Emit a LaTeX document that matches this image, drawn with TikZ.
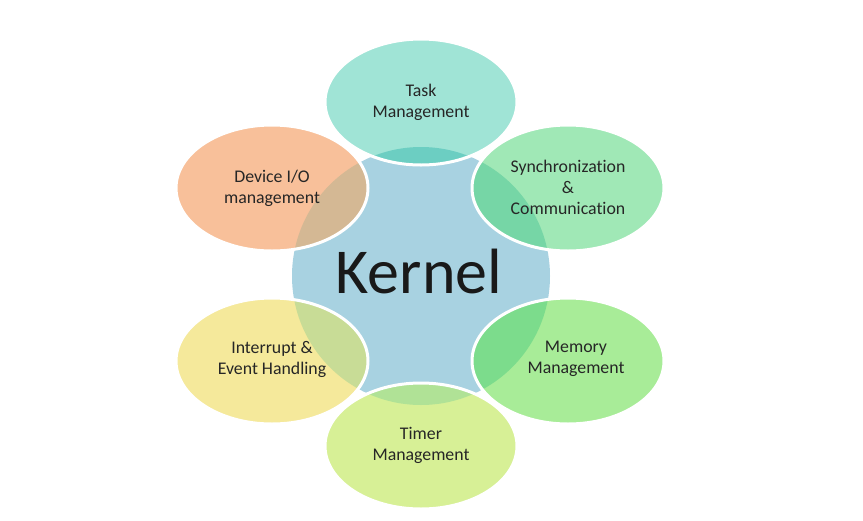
\documentclass[tikz,border=0pt]{standalone}
\usepackage{fontspec}
\setmainfont{Carlito}[Ligatures={NoCommon}]
\begin{document}
\begin{tikzpicture}[x=1pt,y=-1pt,
  lbl/.style={align=center,font=\fontsize{17.8}{21}\selectfont,text=black!85},
  rim/.style={draw=white,line width=3pt}]
\definecolor{cblue}{RGB}{168,210,225}
\definecolor{cteal}{RGB}{160,228,214}\definecolor{oteal}{RGB}{108,206,194}
\definecolor{cpeach}{RGB}{248,192,154}\definecolor{opeach}{RGB}{212,184,148}
\definecolor{csync}{RGB}{160,232,182}\definecolor{osync}{RGB}{118,214,166}
\definecolor{cyel}{RGB}{245,233,155}\definecolor{oyel}{RGB}{200,220,150}
\definecolor{cmem}{RGB}{168,236,152}\definecolor{omem}{RGB}{124,220,140}
\definecolor{ctim}{RGB}{215,240,150}\definecolor{otim}{RGB}{176,226,150}
\fill[white] (0,0) rectangle (863,520);
\useasboundingbox (0,0) rectangle (863,520);
% kernel circle
\fill[cblue] (421,276) circle (129);
% ellipses: center, fill, overlap colour
\foreach \cx/\cy/\cf/\co in {421/102/cteal/oteal, 272/188/cpeach/opeach, 568/188/csync/osync,
  272/361/cyel/oyel, 568/361/cmem/omem, 421/446/ctim/otim}{
  \fill[\cf] (\cx,\cy) ellipse [x radius=96, y radius=63];
  \begin{scope}
    \clip (\cx,\cy) ellipse [x radius=96, y radius=63];
    \fill[\co] (421,276) circle (129);
  \end{scope}
  \draw[rim] (\cx,\cy) ellipse [x radius=96, y radius=63];
}
\node[font=\fontsize{64}{70}\selectfont,text=black!90] (kernel) at (419,271) {Kernel};
\node[lbl] (task) at (421,102) {Task\\Management};
\node[lbl] (dev) at (272,188) {Device I/O\\management};
\node[lbl] (sync) at (568,187) {Synchronization\\\&\\Communication};
\node[lbl] (intr) at (272,359) {Interrupt \&\\Event Handling};
\node[lbl] (mem) at (576,359) {Memory\\Management};
\node[lbl] (tim) at (421,445) {Timer\\Management};
\end{tikzpicture}
\end{document}
